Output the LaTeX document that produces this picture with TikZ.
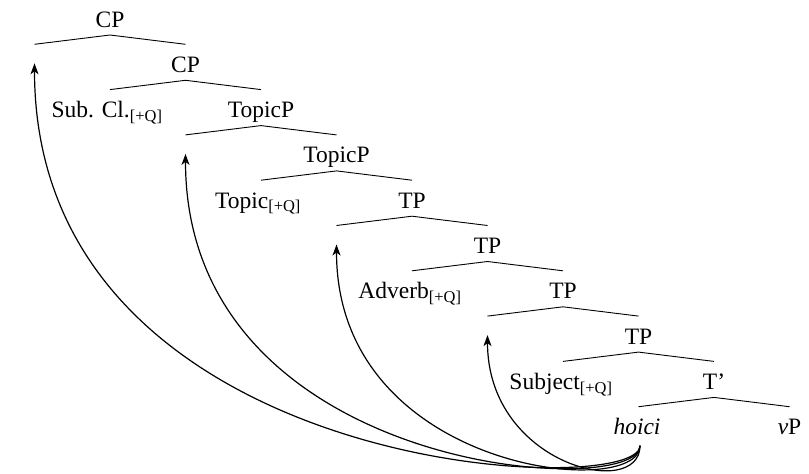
\documentclass[tikz,border=0pt]{standalone}
\usepackage{fontspec}
\setmainfont{Liberation Serif}
\usetikzlibrary{arrows.meta}
\begin{document}
\begin{tikzpicture}[x=1pt,y=-1pt,
  lab/.style={anchor=base,inner sep=0pt,outer sep=0pt,font=\fontsize{23.5}{28}\selectfont},
  br/.style={line width=0.9pt},
  mv/.style={line width=1.2pt,-{Stealth[length=11pt,width=8pt,inset=3pt]}}]
\useasboundingbox (0,0) rectangle (809,474);
% nodes (base lines)
\node[lab] (cp0) at (110,27) {CP};
\coordinate (e1) at (34.5,72.3);
\node[lab] (cp1) at (185.5,72.3) {CP};
\node[lab] (sub) at (107,117.6) {Sub. Cl.\textsubscript{[+Q]}};
\node[lab] (top1) at (261,117.6) {TopicP};
\coordinate (e2) at (185.5,162.9);
\node[lab] (top2) at (336.5,162.9) {TopicP};
\node[lab] (topic) at (258,208.2) {Topic\textsubscript{[+Q]}};
\node[lab] (tp1) at (412,208.2) {TP};
\coordinate (e3) at (336.5,253.5);
\node[lab] (tp2) at (487.5,253.5) {TP};
\node[lab] (adv) at (410,298.8) {Adverb\textsubscript{[+Q]}};
\node[lab] (tp3) at (563,298.8) {TP};
\coordinate (e4) at (487.5,344.1);
\node[lab] (tp4) at (638.5,344.1) {TP};
\node[lab] (subj) at (561,389.4) {Subject\textsubscript{[+Q]}};
\node[lab] (tbar) at (714,389.4) {T'};
\node[lab] (hoici) at (637,434.7) {\textit{hoici}};
\node[lab] (vp) at (789.5,434.7) {\textit{v}P};
% branches
\draw[br] ([yshift=28pt]e1) -- ([yshift=-8pt]cp0.base) -- ([yshift=28pt]cp1.base);
\draw[br] ([yshift=28pt]top1.base) ++(-151,0) -- ([yshift=-8pt]cp1.base) -- ([yshift=28pt]top1.base);
\draw[br] ([yshift=28pt]e2) -- ([yshift=-8pt]top1.base) -- ([yshift=28pt]top2.base);
\draw[br] ([yshift=28pt]tp1.base) ++(-151,0) -- ([yshift=-8pt]top2.base) -- ([yshift=28pt]tp1.base);
\draw[br] ([yshift=28pt]e3) -- ([yshift=-8pt]tp1.base) -- ([yshift=28pt]tp2.base);
\draw[br] ([yshift=28pt]tp3.base) ++(-151,0) -- ([yshift=-8pt]tp2.base) -- ([yshift=28pt]tp3.base);
\draw[br] ([yshift=28pt]e4) -- ([yshift=-8pt]tp3.base) -- ([yshift=28pt]tp4.base);
\draw[br] ([yshift=28pt]tbar.base) ++(-151,0) -- ([yshift=-8pt]tp4.base) -- ([yshift=28pt]tbar.base);
\draw[br] ([yshift=28pt]vp.base) ++(-151,0) -- ([yshift=-8pt]tbar.base) -- ([yshift=28pt]vp.base);
% movement arrows
\coordinate (hs) at ([xshift=3pt,yshift=-11pt]hoici.base);
\draw[mv] (hs) .. controls +(0,55) and +(0,415) .. ([yshift=9pt]e1);
\draw[mv] (hs) .. controls +(0,55) and +(0,322) .. ([yshift=9pt]e2);
\draw[mv] (hs) .. controls +(0,55) and +(0,228) .. ([yshift=9pt]e3);
\draw[mv] (hs) .. controls +(0,55) and +(0,130) .. ([yshift=9pt]e4);
\end{tikzpicture}
\end{document}
